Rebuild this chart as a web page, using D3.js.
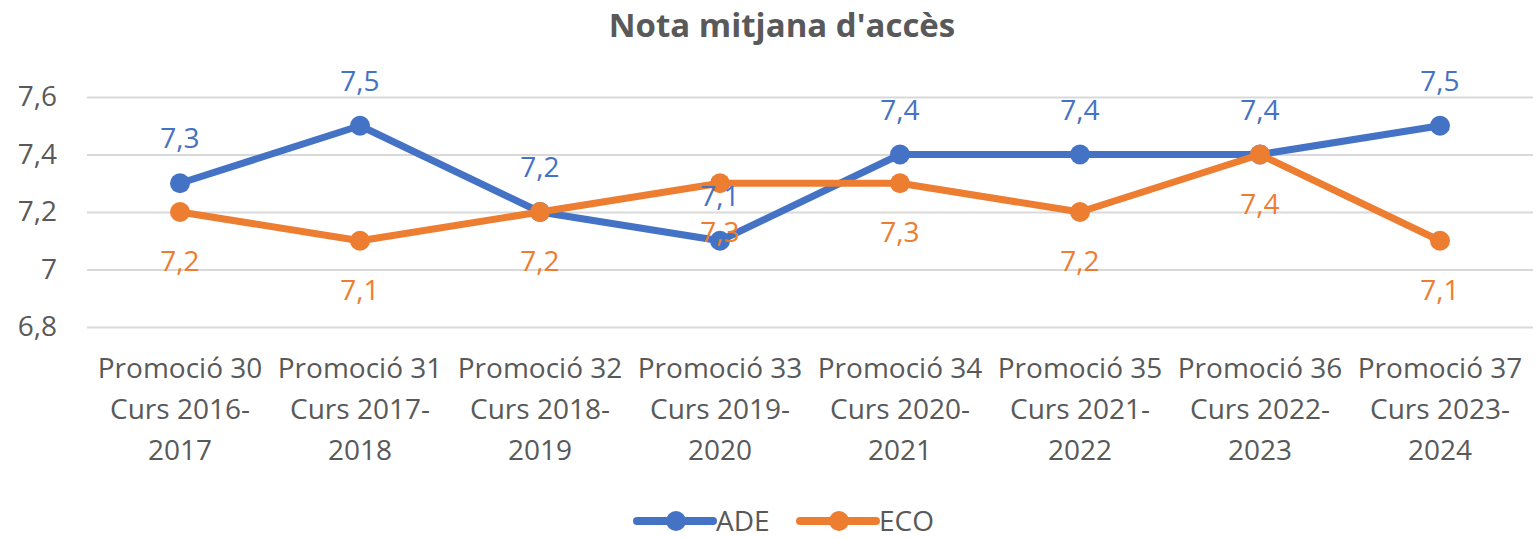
<!DOCTYPE html>
<meta charset="utf-8" />
<style>
  body {
    margin: 0;
    background: #fff;
  }

  svg text {
    font-family: "Open Sans", sans-serif;
    fill: #595959;
  }

  .grid line {
    stroke: #d9d9d9;
    stroke-width: 2px;
  }
</style>
<svg width="1540" height="538"></svg>

<script src="https://d3js.org/d3.v7.min.js"></script>
<script>
  /* global d3 */

  var categories = [
    "Promoció 30\nCurs 2016-\n2017",
    "Promoció 31\nCurs 2017-\n2018",
    "Promoció 32\nCurs 2018-\n2019",
    "Promoció 33\nCurs 2019-\n2020",
    "Promoció 34\nCurs 2020-\n2021",
    "Promoció 35\nCurs 2021-\n2022",
    "Promoció 36\nCurs 2022-\n2023",
    "Promoció 37\nCurs 2023-\n2024",
  ];
  var ade = [7.3, 7.5, 7.2, 7.1, 7.4, 7.4, 7.4, 7.5];
  var eco = [7.2, 7.1, 7.2, 7.3, 7.3, 7.2, 7.4, 7.1];
  var yTicks = [6.8, 7, 7.2, 7.4, 7.6];

  var series = [
    { name: "ADE", values: ade, color: "#4472c4", labelDy: -35 },
    { name: "ECO", values: eco, color: "#ed7d31", labelDy: 59 },
  ];

  var svg = d3.select("svg");

  var fmt = d3.formatLocale({ decimal: ",", thousands: ".", grouping: [3], currency: ["", "€"] }).format(".1~f");

  var x = d3.scaleBand().domain(categories).range([90, 1530]);
  var y = d3.scaleLinear().domain([6.8, 7.6]).range([327, 97]);
  var cx = function (i) {
    return x(categories[i]) + x.bandwidth() / 2;
  };

  // title
  svg
    .append("text")
    .attr("x", 782)
    .attr("y", 37)
    .attr("text-anchor", "middle")
    .style("font-size", "33px")
    .style("font-weight", "bold")
    .text("Nota mitjana d'accès");

  // grid + y labels
  var yAxis = svg
    .append("g")
    .attr("class", "grid")
    .attr("transform", "translate(87,0)")
    .call(d3.axisLeft(y).tickValues(yTicks).tickSize(-1446).tickPadding(30).tickFormat(fmt));
  yAxis.select(".domain").remove();
  yAxis.selectAll("text").style("font-size", "28px").attr("fill", null);

  // category labels
  var cat = svg
    .append("g")
    .selectAll("text")
    .data(categories)
    .join("text")
    .attr("text-anchor", "middle")
    .style("font-size", "28px")
    .attr("transform", function (d, i) {
      return "translate(" + cx(i) + ",378)";
    });
  cat
    .selectAll("tspan")
    .data(function (d) {
      return d.split("\n");
    })
    .join("tspan")
    .attr("x", 0)
    .attr("y", function (d, i) {
      return i * 41;
    })
    .text(function (d) {
      return d;
    });

  var line = d3
    .line()
    .x(function (d, i) {
      return cx(i);
    })
    .y(function (d) {
      return y(d);
    });

  series.forEach(function (s) {
    var g = svg.append("g");
    g.append("path")
      .attr("d", line(s.values))
      .attr("fill", "none")
      .attr("stroke", s.color)
      .attr("stroke-width", 7)
      .attr("stroke-linejoin", "round");
    g.selectAll("circle")
      .data(s.values)
      .join("circle")
      .attr("cx", function (d, i) {
        return cx(i);
      })
      .attr("cy", function (d) {
        return y(d);
      })
      .attr("r", 10)
      .attr("fill", s.color);
  });

  // data labels on top
  series.forEach(function (s) {
    svg
      .append("g")
      .selectAll("text")
      .data(s.values)
      .join("text")
      .attr("x", function (d, i) {
        return cx(i);
      })
      .attr("y", function (d) {
        return y(d) + s.labelDy;
      })
      .attr("text-anchor", "middle")
      .style("font-size", "28px")
      .style("fill", s.color)
      .text(fmt);
  });

  // legend
  var legX = [633, 796];
  var leg = svg
    .append("g")
    .selectAll("g")
    .data(series)
    .join("g")
    .attr("transform", function (d, i) {
      return "translate(" + legX[i] + ",521)";
    });
  leg
    .append("line")
    .attr("x1", 4)
    .attr("x2", 80)
    .attr("stroke", function (d) {
      return d.color;
    })
    .attr("stroke-width", 8)
    .attr("stroke-linecap", "round");
  leg
    .append("circle")
    .attr("cx", 43)
    .attr("r", 10)
    .attr("fill", function (d) {
      return d.color;
    });
  leg
    .append("text")
    .attr("x", 83)
    .attr("y", 10)
    .style("font-size", "28px")
    .text(function (d) {
      return d.name;
    });
</script>
